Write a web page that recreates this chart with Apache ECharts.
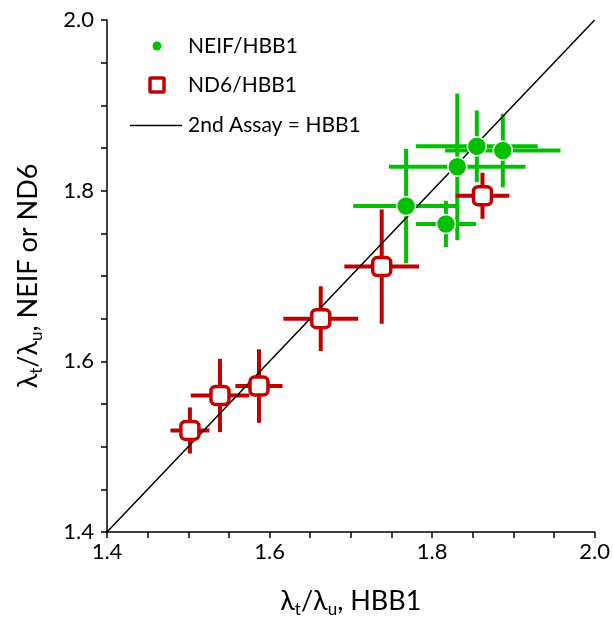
<!DOCTYPE html>
<html>
<head>
<meta charset="utf-8">
<script src="https://cdn.jsdelivr.net/npm/echarts@6/dist/echarts.min.js"></script>
<style>
  html, body { margin: 0; padding: 0; background: #fff; }
  #chart { width: 613px; height: 626px; }
</style>
</head>
<body>
<div id="chart"></div>
<script>
// NEIF vs HBB1 ratios with x/y uncertainties
const neifX    = [1.855, 1.887, 1.831, 1.768, 1.817];
const neifY    = [1.852, 1.847, 1.828, 1.782, 1.761];
const neifXErr = [0.075, 0.071, 0.084, 0.065, 0.037];
const neifYErr = [0.042, 0.043, 0.086, 0.067, 0.027];

// ND6 vs HBB1 ratios with x/y uncertainties
const nd6X    = [1.862, 1.738, 1.663, 1.587, 1.539, 1.502];
const nd6Y    = [1.794, 1.711, 1.650, 1.571, 1.560, 1.519];
const nd6XErr = [0.033, 0.046, 0.046, 0.029, 0.036, 0.024];
const nd6YErr = [0.027, 0.067, 0.038, 0.043, 0.043, 0.027];

// Equality line endpoints (2nd assay = HBB1)
const identityLine = [1.4, 2.0];

// Axis range and tick step
const axisMin = 1.4, axisMax = 2.0, tickStep = 0.05;
const labelStep = 0.2;

const GREEN = '#00c000';
const RED = '#c00000';
const FONT = 'Lato, "Open Sans", sans-serif';

function zip(xs, ys, exs, eys) {
  return xs.map((x, i) => [x, ys[i], exs[i], eys[i]]);
}

function errorBars(color) {
  return function (params, api) {
    const x = api.value(0), y = api.value(1);
    const ex = api.value(2), ey = api.value(3);
    const l = api.coord([x - ex, y]);
    const r = api.coord([x + ex, y]);
    const t = api.coord([x, y + ey]);
    const b = api.coord([x, y - ey]);
    const style = { stroke: color, lineWidth: 4 };
    return {
      type: 'group',
      children: [
        { type: 'line', shape: { x1: l[0], y1: l[1], x2: r[0], y2: r[1] }, style },
        { type: 'line', shape: { x1: t[0], y1: t[1], x2: b[0], y2: b[1] }, style }
      ]
    };
  };
}

function tickLabel(v) {
  const k = Math.round(v * 100);
  return (k % Math.round(labelStep * 100) === 0) ? v.toFixed(1) : '';
}

const nameRich = {
  l: { fontSize: 27, lineHeight: 34, fontFamily: FONT, color: '#000' },
  s: { fontSize: 17, lineHeight: 15, verticalAlign: 'bottom', fontFamily: FONT, color: '#000' }
};

const chart = echarts.init(document.getElementById('chart'));
chart.setOption({
  animation: false,
  backgroundColor: '#fff',
  grid: { left: 107, right: 15, top: 20, bottom: 94 },
  xAxis: {
    type: 'value', min: axisMin, max: axisMax, interval: tickStep,
    axisLine: { lineStyle: { color: '#000', width: 1.5 } },
    axisTick: { inside: false, length: 6, lineStyle: { color: '#000', width: 1.5 } },
    axisLabel: { formatter: tickLabel, fontSize: 22, fontFamily: FONT, color: '#000', margin: 9 },
    splitLine: { show: false },
    name: '{l|λ}{s|t}{l|/λ}{s|u}{l|, HBB1}',
    nameLocation: 'middle', nameGap: 52,
    nameTextStyle: { rich: nameRich }
  },
  yAxis: {
    type: 'value', min: axisMin, max: axisMax, interval: tickStep,
    axisLine: { lineStyle: { color: '#000', width: 1.5 } },
    axisTick: { inside: false, length: 6, lineStyle: { color: '#000', width: 1.5 } },
    axisLabel: { formatter: tickLabel, fontSize: 22, fontFamily: FONT, color: '#000', margin: 13 },
    splitLine: { show: false },
    name: '{l|λ}{s|t}{l|/λ}{s|u}{l|, NEIF or ND6}',
    nameLocation: 'middle', nameGap: 62, nameRotate: 90,
    nameTextStyle: { rich: nameRich }
  },
  series: [
    {
      type: 'custom', name: 'NEIF err', z: 2,
      renderItem: errorBars(GREEN),
      data: zip(neifX, neifY, neifXErr, neifYErr),
      encode: { x: 0, y: 1 }
    },
    {
      type: 'custom', name: 'ND6 err', z: 2,
      renderItem: errorBars(RED),
      data: zip(nd6X, nd6Y, nd6XErr, nd6YErr),
      encode: { x: 0, y: 1 }
    },
    {
      type: 'line', name: '2nd Assay = HBB1', z: 3,
      data: identityLine.map(v => [v, v]),
      symbol: 'none',
      lineStyle: { color: '#000', width: 1.5 }
    },
    {
      type: 'scatter', name: 'NEIF/HBB1', z: 4,
      data: neifX.map((x, i) => [x, neifY[i]]),
      symbol: 'circle', symbolSize: 19,
      itemStyle: { color: GREEN, borderColor: '#fff', borderWidth: 1.5, opacity: 1 }
    },
    {
      type: 'scatter', name: 'ND6/HBB1', z: 4,
      data: nd6X.map((x, i) => [x, nd6Y[i]]),
      symbol: 'roundRect', symbolSize: 18,
      itemStyle: { color: '#fff', borderColor: RED, borderWidth: 3.5, opacity: 1 }
    }
  ],
  graphic: [
    { type: 'circle', shape: { cx: 157, cy: 46, r: 4.5 }, style: { fill: GREEN } },
    { type: 'rect', shape: { x: 150, y: 78, width: 14, height: 14, r: 1 }, style: { fill: '#fff', stroke: RED, lineWidth: 3.5 } },
    { type: 'line', shape: { x1: 130, y1: 125.5, x2: 182, y2: 125.5 }, style: { stroke: '#000', lineWidth: 1.5 } },
    { type: 'text', x: 188, y: 46, style: { text: 'NEIF/HBB1', fontSize: 21, fontFamily: FONT, fill: '#000', verticalAlign: 'middle' } },
    { type: 'text', x: 188, y: 85, style: { text: 'ND6/HBB1', fontSize: 21, fontFamily: FONT, fill: '#000', verticalAlign: 'middle' } },
    { type: 'text', x: 188, y: 125, style: { text: '2nd Assay = HBB1', fontSize: 21, fontFamily: FONT, fill: '#000', verticalAlign: 'middle' } }
  ]
});
</script>
</body>
</html>
